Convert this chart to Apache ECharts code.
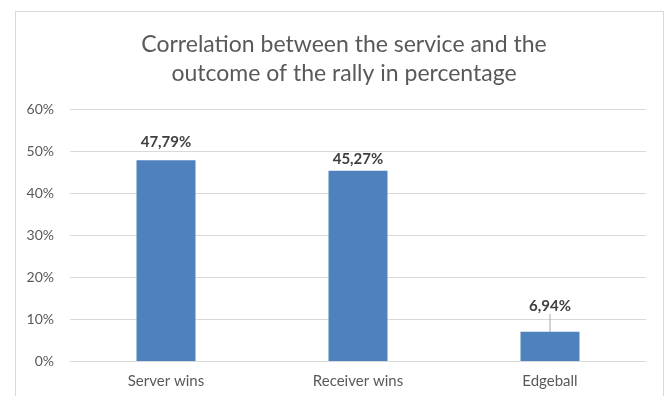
<!DOCTYPE html>
<html><head><meta charset="utf-8">
<script src="https://cdn.jsdelivr.net/npm/echarts@6/dist/echarts.min.js"></script>
<style>html,body{margin:0;padding:0;background:#fff}#c{width:668px;height:396px}
#frame{position:absolute;left:15px;top:11px;width:649px;height:400px;border:1px solid #d9d9d9;box-sizing:border-box;pointer-events:none}</style>
</head><body><div id="c"></div><div id="frame"></div>
<script>
var categories = ['Server wins', 'Receiver wins', 'Edgeball'];
var values = [47.79, 45.27, 6.94];
var labelTexts = ['47,79%', '45,27%', '6,94%'];
var yTicks = [0, 10, 20, 30, 40, 50, 60];
var titleText = 'Correlation between the service and the\noutcome of the rally in percentage';

var labelDistances = [11, 4, 4];
var labelShift = [0, 0, -14];
var FONT = 'Lato';
var chart = echarts.init(document.getElementById('c'));
chart.setOption({
  animation: false,
  title: {
    text: titleText, left: 339, top: 25, textAlign: 'center',
    textStyle: {fontFamily: FONT, fontSize: 23, fontWeight: 'normal', color: '#595959', lineHeight: 29}
  },
  grid: {left: 70, right: 22, top: 109, bottom: 35},
  xAxis: {
    type: 'category', data: categories,
    axisLine: {lineStyle: {color: '#d9d9d9'}},
    axisTick: {show: false},
    axisLabel: {color: '#595959', fontFamily: FONT, fontSize: 15, margin: 13}
  },
  yAxis: {
    type: 'value', min: yTicks[0], max: yTicks[yTicks.length - 1], interval: 10,
    axisLine: {show: false}, axisTick: {show: false},
    splitLine: {lineStyle: {color: '#d9d9d9'}},
    axisLabel: {color: '#595959', fontFamily: FONT, fontSize: 14, margin: 16, formatter: '{value}%'}
  },
  series: [{
    type: 'bar', barWidth: 59,
    itemStyle: {color: '#4f81bd'},
    data: values.map(function (v, i) {
      return {
        value: v,
        label: {distance: labelDistances[i]},
        labelLine: {show: !!labelShift[i]}
      };
    }),
    label: {
      show: true, position: 'top',
      fontFamily: FONT, fontSize: 15, fontWeight: 'bold', color: '#404040',
      formatter: function (p) { return labelTexts[p.dataIndex]; }
    },
    labelLayout: function (p) {
      return labelShift[p.dataIndex] ? {dy: labelShift[p.dataIndex]} : {};
    },
    labelLine: {show: true, lineStyle: {color: '#a6a6a6', width: 1}}
  }]
});
</script></body></html>
